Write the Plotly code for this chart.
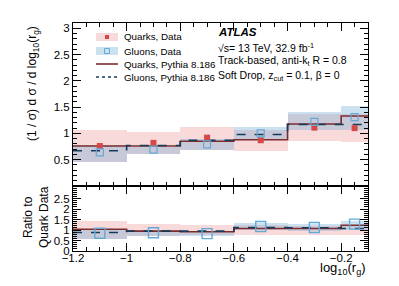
import plotly.graph_objects as go

# ---------------- data ----------------
bin_edges = [-1.2, -1.0, -0.8, -0.6, -0.4, -0.2, -0.1]
bin_centers = [-1.1, -0.9, -0.7, -0.5, -0.3, -0.15]
bin_widths = [0.2, 0.2, 0.2, 0.2, 0.2, 0.1]

quark_data = [0.76, 0.82, 0.92, 0.87, 1.11, 1.10]
gluon_data = [0.64, 0.69, 0.79, 1.00, 1.22, 1.31]
quark_mc = [0.76, 0.76, 0.85, 0.88, 1.18, 1.33]
gluon_mc = [0.67, 0.77, 0.87, 0.98, 1.17, 1.17]
quark_band_lo = [0.45, 0.60, 0.68, 0.66, 0.86, 0.84]
quark_band_hi = [1.07, 1.02, 1.13, 1.07, 1.36, 1.37]
gluon_band_lo = [0.45, 0.60, 0.69, 0.88, 1.07, 1.06]
gluon_band_hi = [0.78, 0.75, 0.89, 1.13, 1.40, 1.53]

ratio_quark_mc = [1.04, 0.95, 0.92, 1.07, 1.07, 1.23]
ratio_gluon_mc = [0.88, 0.95, 0.95, 1.12, 1.11, 1.07]
ratio_gluon_data = [0.85, 0.87, 0.83, 1.17, 1.12, 1.28]
ratio_quark_lo = [0.56, 0.72, 0.74, 0.76, 0.78, 0.76]
ratio_quark_hi = [1.44, 1.28, 1.24, 1.22, 1.20, 1.24]
ratio_gluon_lo = [0.58, 0.70, 0.72, 0.98, 0.95, 1.00]
ratio_gluon_hi = [1.00, 0.98, 0.96, 1.32, 1.28, 1.42]

main_yticks = [0.5, 1, 1.5, 2, 2.5, 3]
ratio_yticks = [0, 0.5, 1, 1.5, 2, 2.5]
x_ticks = [-1.2, -1.0, -0.8, -0.6, -0.4, -0.2]

# ---------------- styles ----------------
PINK = "rgba(232,120,120,0.27)"
BLUE = "rgba(110,170,212,0.35)"
RED = "rgb(214,72,72)"
LBLUE = "rgb(100,170,215)"
QMC = "rgb(125,45,45)"
GMC = "rgb(20,60,90)"
FONT = "Liberation Sans, Arial, sans-serif"

fig = go.Figure()


def band(lo, hi, color, xa, ya):
    fig.add_trace(go.Bar(
        x=bin_centers, y=[h - l for h, l in zip(hi, lo)], base=lo,
        width=bin_widths, marker=dict(color=color, line=dict(width=0)),
        xaxis=xa, yaxis=ya, showlegend=False, hoverinfo="skip"))


def step(vals, color, dash, xa, ya):
    fig.add_trace(go.Scatter(
        x=bin_edges, y=list(vals) + [vals[-1]], mode="lines",
        line=dict(color=color, width=1.6, dash=dash, shape="hv"),
        xaxis=xa, yaxis=ya, showlegend=False, hoverinfo="skip"))


# main panel
band(quark_band_lo, quark_band_hi, PINK, "x2", "y2")
band(gluon_band_lo, gluon_band_hi, BLUE, "x2", "y2")
step(quark_mc, QMC, "solid", "x2", "y2")
step(gluon_mc, GMC, "dash", "x2", "y2")
fig.add_trace(go.Scatter(x=bin_centers, y=quark_data, mode="markers",
                         marker=dict(symbol="square", size=6, color=RED),
                         xaxis="x2", yaxis="y2", showlegend=False))
fig.add_trace(go.Scatter(x=bin_centers, y=gluon_data, mode="markers",
                         marker=dict(symbol="square-open", size=7, color=LBLUE,
                                     line=dict(width=1.2)),
                         xaxis="x2", yaxis="y2", showlegend=False))

# ratio panel
band(ratio_quark_lo, ratio_quark_hi, PINK, "x", "y")
band(ratio_gluon_lo, ratio_gluon_hi, BLUE, "x", "y")
step(ratio_quark_mc, QMC, "solid", "x", "y")
step(ratio_gluon_mc, GMC, "dash", "x", "y")
fig.add_trace(go.Scatter(x=bin_centers, y=ratio_gluon_data, mode="markers",
                         marker=dict(symbol="square-open", size=10, color=LBLUE,
                                     line=dict(width=1.4)),
                         xaxis="x", yaxis="y", showlegend=False))

# ---------------- layout ----------------
# The page body has an 8 px default margin, so the figure is offset by (8, 8).
OFF = 8
W, H = 399 - OFF, 286 - OFF
L, R, T, B = 73 - OFF, 31, 23 - OFF, 35
PW, PH = W - L - R, H - T - B
split = 65 / PH


def px(xp):  # page pixel -> paper
    return (xp - OFF - L) / PW


def py(yp):
    return (H - B - (yp - OFF)) / PH


axis_common = dict(showline=True, linecolor="black", linewidth=1, mirror="allticks",
                   ticks="inside", tickcolor="black", showgrid=False, zeroline=False,
                   tickfont=dict(family=FONT, size=11.5, color="black"))

fig.update_layout(
    width=W, height=H, margin=dict(l=L, r=R, t=T, b=B),
    paper_bgcolor="white", plot_bgcolor="white", barmode="overlay", bargap=0,
    showlegend=False,
    xaxis=dict(domain=[0, 1], anchor="y", range=[-1.2, -0.1], tickvals=x_ticks,
               ticklen=8, ticklabelstandoff=-4,
               minor=dict(ticks="inside", dtick=0.05, tick0=-1.2, ticklen=4,
                          tickcolor="black", showgrid=False),
               **axis_common),
    xaxis2=dict(domain=[0, 1], anchor="y2", matches="x", range=[-1.2, -0.1],
                tickvals=x_ticks, showticklabels=False, ticklen=8,
                minor=dict(ticks="inside", dtick=0.05, tick0=-1.2, ticklen=4,
                           tickcolor="black", showgrid=False),
                **axis_common),
    yaxis=dict(domain=[0, split], anchor="x", range=[0, 3.1], tickvals=ratio_yticks,
               ticklen=8, minor=dict(ticks="inside", dtick=0.1, tick0=0, ticklen=4,
                                     tickcolor="black", showgrid=False),
               **axis_common),
    yaxis2=dict(domain=[split, 1], anchor="x2", range=[0, 3.1], tickvals=main_yticks,
                ticklen=8, minor=dict(ticks="inside", dtick=0.1, tick0=0, ticklen=4,
                                      tickcolor="black", showgrid=False),
                **axis_common),
)

shapes = []
ann = []

# legend
rows = [37, 51, 64, 77]
labels = ["Quarks, Data", "Gluons, Data", "Quarks, Pythia 8.186", "Gluons, Pythia 8.186"]
for i, (yy, lab) in enumerate(zip(rows, labels)):
    if i < 2:
        shapes.append(dict(type="rect", xref="paper", yref="paper",
                           x0=px(96), x1=px(118), y0=py(yy + 4), y1=py(yy - 4),
                           fillcolor=PINK if i == 0 else BLUE, line=dict(width=0)))
        if i == 0:
            shapes.append(dict(type="rect", xref="paper", yref="paper",
                               x0=px(105), x1=px(109), y0=py(yy + 2), y1=py(yy - 2),
                               fillcolor=RED, line=dict(width=0)))
        else:
            shapes.append(dict(type="rect", xref="paper", yref="paper",
                               x0=px(104.5), x1=px(109.5), y0=py(yy + 2.5), y1=py(yy - 2.5),
                               fillcolor="rgba(0,0,0,0)", line=dict(color=LBLUE, width=1)))
    else:
        shapes.append(dict(type="line", xref="paper", yref="paper",
                           x0=px(96), x1=px(118), y0=py(yy), y1=py(yy),
                           line=dict(color=QMC if i == 2 else GMC, width=1.6,
                                     dash="solid" if i == 2 else "dot")))
    ann.append(dict(text=lab, xref="paper", yref="paper", x=px(122), y=py(yy),
                    xanchor="left", yanchor="middle", showarrow=False,
                    font=dict(family=FONT, size=9.8, color="black")))

# ATLAS labels
info = [("<b><i>ATLAS</i></b>", 32, 11.5),
        ("√s= 13 TeV, 32.9 fb<sup>-1</sup>", 47, 10.5),
        ("Track-based, anti-k<sub>t</sub> R = 0.8", 61, 10.5),
        ("Soft Drop, z<sub>cut</sub> = 0.1, β = 0", 76, 10.5)]
for txt, yy, fs in info:
    ann.append(dict(text=txt, xref="paper", yref="paper", x=px(216), y=py(yy),
                    xanchor="left", yanchor="middle", showarrow=False,
                    font=dict(family=FONT, size=fs, color="black")))

# axis titles
ann.append(dict(text="(1 / σ) d σ / d log<sub>10</sub>(r<sub>g</sub>)", xref="paper",
                yref="paper", x=px(33), y=py(84), textangle=-90, xanchor="center",
                yanchor="middle", showarrow=False,
                font=dict(family=FONT, size=12, color="black")))
ann.append(dict(text="Ratio to<br>Quark Data", xref="paper", yref="paper",
                x=px(36), y=py(217), textangle=-90, xanchor="center", yanchor="middle",
                showarrow=False, font=dict(family=FONT, size=12, color="black")))
ann.append(dict(text="log<sub>10</sub>(r<sub>g</sub>)", xref="paper", yref="paper",
                x=1.0, y=py(268), xanchor="right", yanchor="middle", showarrow=False,
                font=dict(family=FONT, size=13, color="black")))

fig.update_layout(shapes=shapes, annotations=ann)
fig.write_html("out.html")
